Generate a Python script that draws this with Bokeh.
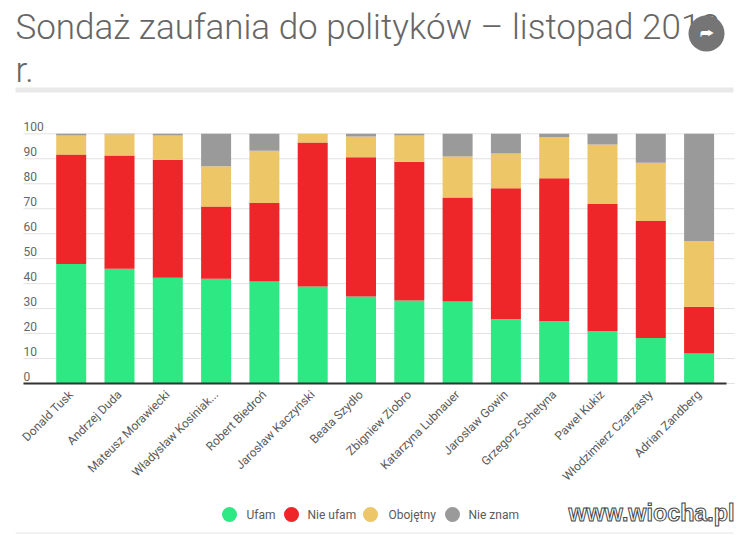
from bokeh.plotting import figure
from bokeh.models import ColumnDataSource, FixedTicker, Range1d, Label, BoxAnnotation
from bokeh.embed import file_html
from bokeh.resources import INLINE
import math

politicians = ["Donald Tusk","Andrzej Duda","Mateusz Morawiecki","Władysław Kosiniak...","Robert Biedroń",
               "Jarosław Kaczyński","Beata Szydło","Zbigniew Ziobro","Katarzyna Lubnauer","Jarosław Gowin",
               "Grzegorz Schetyna","Paweł Kukiz","Włodzimierz Czarzasty","Adrian Zandberg"]
ufam      = [47.9,46.0,42.4,42.0,40.8,38.8,34.8,33.2,32.8,25.8,24.9,20.9,18.2,12.0]
nie_ufam  = [43.8,45.3,47.2,28.9,31.5,57.7,55.8,55.6,41.7,52.4,57.3,51.0,46.9,18.7]
obojetny  = [7.6,8.5,9.7,16.1,20.9,3.5,8.3,10.5,16.4,13.9,16.5,23.8,23.3,26.4]
nie_znam  = [0.7,0.2,0.7,13.0,6.8,0.0,1.1,0.7,9.1,7.9,1.3,4.3,11.6,42.9]
series_names = ["Ufam","Nie ufam","Obojętny","Nie znam"]
colors = ["#2ee884","#ee2529","#edc668","#9a9a9a"]
y_ticks = [0,10,20,30,40,50,60,70,80,90,100]
title_text = "Sondaż zaufania do polityków – listopad 2018\nr."
watermark = "www.wiocha.pl"

idx = list(range(len(politicians)))
src = ColumnDataSource(dict(x=idx, Ufam=ufam, **{"Nie ufam":nie_ufam,"Obojętny":obojetny,"Nie znam":nie_znam}))

W, H = 750, 535
BASE = 383        # page row of value 0
UNIT = 2.497      # pixels per percentage point
SPC = 48.3        # pixels per bar slot
X0 = 70.7         # page column of the first bar
xv = lambda px:(px-X0)/SPC
p = figure(width=W, height=H, output_backend="svg", toolbar_location=None,
           x_range=Range1d(xv(0),xv(W)), y_range=Range1d((BASE-H)/UNIT,BASE/UNIT),
           y_axis_location=None, min_border=0)
p.outline_line_color=None
p.grid.visible=False

p.segment(x0=[xv(23)]*len(y_ticks),x1=[xv(734)]*len(y_ticks),y0=y_ticks,y1=y_ticks,line_color="#e2e2e2",line_width=1)

p.vbar_stack(series_names,x="x",width=0.621,source=src,color=colors,line_color=None)

ax=p.xaxis[0]
ax.fixed_location=0
ax.ticker=FixedTicker(ticks=idx)
ax.major_label_overrides={i:n for i,n in enumerate(politicians)}
ax.major_label_orientation=math.pi/4
ax.major_label_text_font="Roboto"
ax.major_label_text_font_size="12px"
ax.major_label_text_color="#5a5a5a"
ax.major_label_standoff=3
ax.major_tick_line_color=None
ax.minor_tick_line_color=None
ax.axis_line_color="#333333"
ax.axis_line_width=2
ax.bounds=(xv(23),xv(726))

tick_src=ColumnDataSource(dict(x=[xv(23)]*len(y_ticks),y=y_ticks,t=[str(v) for v in y_ticks]))
p.text(x="x",y="y",text="t",source=tick_src,text_font={"value":"Roboto"},text_font_size={"value":"12px"},
       text_color="#666666",text_align="left",text_baseline="bottom",y_offset=-3)

ry=lambda v:H-v
def box(l,r,t,b,color,radius=0):
    p.add_layout(BoxAnnotation(left=l,right=r,top=ry(t),bottom=ry(b),left_units="screen",right_units="screen",
                 top_units="screen",bottom_units="screen",fill_color=color,fill_alpha=1,line_color=None,
                 border_radius=radius,level="annotation",editable=False))
def label(x,y,text,**kw):
    p.add_layout(Label(x=x,y=ry(y),x_units="screen",y_units="screen",text=text,**kw))

# legend
for cx,tx,name,c in zip([229,291,370,452],[246,307,388,468],series_names,colors):
    box(cx-7.5,cx+7.5,514-7.5,514+7.5,c,8)
    label(tx,514,name,text_font="Roboto",text_font_size="12px",text_color="#5a5a5a",text_baseline="middle",text_align="left")

label(15,6,title_text,text_font="Roboto Light, Roboto",text_font_size="35px",text_color="#666666",
      text_baseline="top",text_align="left",text_line_height=1.05)
box(15,733,87,92,"#e9e9e9")
box(15,733,532,533,"#e6e6e6")
box(688,724,15,51,"#757575",18)
label(706,33,"⮫",text_font="DejaVu Sans",text_font_size="15px",text_color="#ffffff",text_align="center",text_baseline="middle")
label(734,512,watermark,text_font="Liberation Sans",text_font_style="bold",text_font_size="23.3px",text_color="#ffffff",
      text_outline_color="#444444",text_align="right",text_baseline="middle")

open("out.html","w").write(file_html(p,INLINE))
